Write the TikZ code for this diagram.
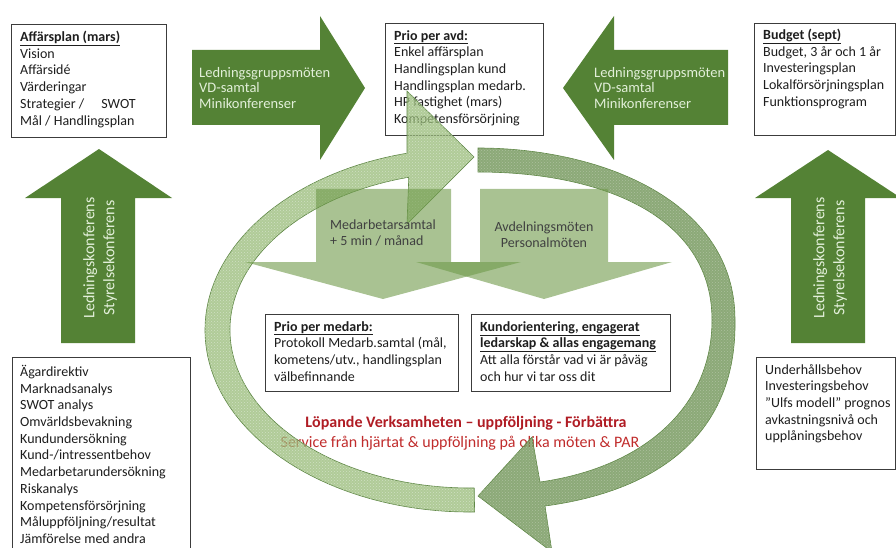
\documentclass[tikz,border=0pt]{standalone}
\usepackage{fontspec}
\setmainfont{Carlito}
\usetikzlibrary{patterns,calc}

\definecolor{dkgreen}{RGB}{84,130,53}
\definecolor{lttext}{RGB}{226,239,217}
\definecolor{dngreen}{RGB}{111,154,74}
\definecolor{arcA}{RGB}{150,186,118}
\definecolor{arcB}{RGB}{108,145,82}
\definecolor{arcline}{RGB}{95,135,70}
\definecolor{boxline}{RGB}{60,60,60}
\definecolor{redtxt}{RGB}{176,28,36}
\definecolor{redtxtb}{RGB}{192,44,44}
\definecolor{bodytxt}{RGB}{30,30,30}

\tikzset{
  infobox/.style={draw=boxline, line width=1pt, fill=white, anchor=north west, inner sep=0pt},
  boxtext/.style={anchor=north west, inner sep=0pt, align=left, text=bodytxt,
                  font=\fontsize{14}{16.7}\selectfont},
  bigarrow/.style={fill=dkgreen},
  arrowtext/.style={anchor=north west, inner sep=0pt, align=left, text=lttext,
                  font=\fontsize{14.5}{15.6}\selectfont},
  vtext/.style={rotate=90, inner sep=0pt, align=center, text=lttext,
                  font=\fontsize{16}{20}\selectfont},
  dnarrow/.style={fill=dngreen, fill opacity=0.6},
  dntext/.style={inner sep=0pt, text=bodytxt!85, font=\fontsize{14}{16}\selectfont},
  arcfillA/.style={fill=arcA, fill opacity=0.75, draw=arcline, line width=0.6pt,
                  postaction={pattern=crosshatch dots, pattern color=white!85!arcA, fill opacity=0.5}},
  arcfillB/.style={fill=arcB, fill opacity=0.78, draw=arcline, line width=0.6pt,
                  postaction={pattern=crosshatch dots, pattern color=white!70!arcB, fill opacity=0.45}},
}

\begin{document}
\begin{tikzpicture}[x=1pt,y=-1pt]
\useasboundingbox (0,0) rectangle (896,548);

% ---------- boxes ----------
\node[infobox, minimum width=155pt, minimum height=113pt] (affbox) at (11,24) {};
\node[boxtext] (afftext) at (20,31) {\underline{\textbf{Affärsplan (mars)}}\\Vision\\Affärsidé\\Värderingar\\Strategier / \hspace{1em}SWOT\\Mål / Handlingsplan};

\node[infobox, minimum width=158pt, minimum height=112pt] (priobox) at (385,23) {};
\node[boxtext] (priotext) at (394,30) {\underline{\textbf{Prio per avd:}}\\Enkel affärsplan\\Handlingsplan kund\\Handlingsplan medarb.\\HP fastighet (mars)\\Kompetensförsörjning};

\node[infobox, minimum width=141pt, minimum height=112pt] (budbox) at (754,23) {};
\node[boxtext] (budtext) at (763,29) {\underline{\textbf{Budget (sept)}}\\Budget, 3 år och 1 år\\Investeringsplan\\Lokalförsörjningsplan\\Funktionsprogram};

\node[infobox, minimum width=178pt, minimum height=210pt] (agbox) at (12,357) {};
\node[boxtext] (agtext) at (20,365) {Ägardirektiv\\Marknadsanalys\\SWOT analys\\Omvärldsbevakning\\Kundundersökning\\Kund-/intressentbehov\\Medarbetarundersökning\\Riskanalys\\Kompetensförsörjning\\Måluppföljning/resultat\\Jämförelse med andra};

\node[infobox, minimum width=139pt, minimum height=112pt] (undbox) at (756,357) {};
\node[boxtext] (undtext) at (765,364) {Underhållsbehov\\Investeringsbehov\\”Ulfs modell” prognos\\avkastningsnivå och\\upplåningsbehov};

\node[infobox, minimum width=193pt, minimum height=77pt] (medbox) at (265,314) {};
\node[boxtext] (medtext) at (274,321) {\underline{\textbf{Prio per medarb:}}\\Protokoll Medarb.samtal (mål,\\kometens/utv., handlingsplan\\välbefinnande};

\node[infobox, minimum width=199pt, minimum height=77pt] (kundbox) at (471,314) {};
\node[boxtext] (kundtext) at (480,321) {\underline{\textbf{Kundorientering, engagerat}}\\\underline{\textbf{ledarskap \& allas engagemang}}\\Att alla förstår vad vi är påväg\\och hur vi tar oss dit};

% ---------- red text ----------
\node[inner sep=0pt, text=redtxt, font=\bfseries\fontsize{16}{18}\selectfont] (lop) at (466,423) {Löpande Verksamheten – uppföljning - Förbättra};
\node[inner sep=0pt, text=redtxtb, font=\fontsize{16}{18}\selectfont] (serv) at (460,443) {Service från hjärtat \& uppföljning på olika möten \& PAR};

% ---------- circular arrows ----------
\path[arcfillA]
  ($(470,330)+(89:265 and 182)$) arc[start angle=89, end angle=256.25, x radius=265, y radius=182]
  -- (407,91) -- (474,157) -- (407,224)
  -- ($(470,330)+(255.22:240 and 158)$) arc[start angle=255.22, end angle=89, x radius=240, y radius=158]
  -- cycle;

\path[arcfillB]
  (478,148) .. controls (600,148) and (735,200) .. (735,320)
  .. controls (737,440) and (650,492) .. (545,506)
  -- (552,552) -- (478,496) -- (532,437) -- (540,482)
  .. controls (640,468) and (712,410) .. (712,320)
  .. controls (712,215) and (600,172) .. (478,172)
  -- cycle;

% ---------- down arrows ----------
\fill[dnarrow] (316,189) -- (451,189) -- (451,262) -- (521,262) -- (383,299) -- (245,262) -- (316,262) -- cycle;
\fill[dnarrow] (480,189) -- (608,189) -- (608,262) -- (672,262) -- (544,299) -- (416,262) -- (480,262) -- cycle;
\node[dntext, anchor=north west, align=left] (medsam) at (330,220) {Medarbetarsamtal\\+ 5 min / månad};
\node[dntext, align=center] (avd) at (544,235) {Avdelningsmöten\\Personalmöten};

% ---------- dark green arrows ----------
\fill[bigarrow] (192,50) -- (320,50) -- (320,16) -- (365,88) -- (320,160) -- (320,125) -- (192,125) -- cycle;
\node[arrowtext] (lgl) at (199,67) {Ledningsgruppsmöten\\VD-samtal\\Minikonferenser};

\fill[bigarrow] (728,50) -- (614,50) -- (614,16) -- (563,88) -- (614,160) -- (614,125) -- (728,125) -- cycle;
\node[arrowtext] (lgr) at (594,67) {Ledningsgruppsmöten\\VD-samtal\\Minikonferenser};

\fill[bigarrow] (61,343) -- (61,198) -- (25,198) -- (99,149) -- (172,198) -- (135,198) -- (135,343) -- cycle;
\node[vtext] (konfl) at (100,258) {Ledningskonferens\\Styrelsekonferens};

\fill[bigarrow] (791,343) -- (791,198) -- (755,198) -- (828,150) -- (901,198) -- (865,198) -- (865,343) -- cycle;
\node[vtext] (konfr) at (830,258) {Ledningskonferens\\Styrelsekonferens};

\end{tikzpicture}
\end{document}
